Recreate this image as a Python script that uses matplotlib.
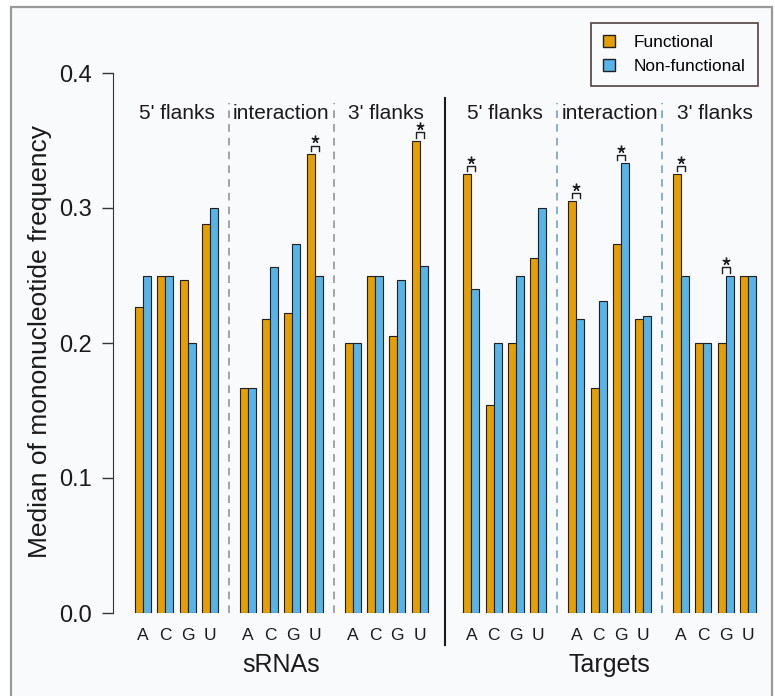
import matplotlib

matplotlib.use("Agg")
import matplotlib.pyplot as plt
import numpy as np
from matplotlib.patches import Patch, Rectangle

plt.rcParams["font.family"] = ["Liberation Sans", "DejaVu Sans"]

nucleotides = ["A", "C", "G", "U"]
regions = ["5' flanks", "interaction", "3' flanks"]
panels = ["sRNAs", "Targets"]

srna_functional = [0.227, 0.250, 0.247, 0.288, 0.167, 0.218, 0.222, 0.340, 0.200, 0.250, 0.205, 0.350]
srna_nonfunctional = [0.250, 0.250, 0.200, 0.300, 0.167, 0.256, 0.273, 0.250, 0.200, 0.250, 0.247, 0.257]
target_functional = [0.325, 0.154, 0.200, 0.263, 0.305, 0.167, 0.273, 0.218, 0.325, 0.200, 0.200, 0.250]
target_nonfunctional = [0.240, 0.200, 0.250, 0.300, 0.218, 0.231, 0.333, 0.220, 0.250, 0.200, 0.250, 0.250]
srna_significant = [7, 11]
target_significant = [0, 4, 6, 8, 10]

ORANGE = "#E69F00"
BLUE = "#56B4E9"
EDGE = "#1f1f1f"
TEXT = "#1a1a1a"

W, H = 775, 696
STEP = 22.3  # px per nucleotide pair
BAR_W = 8 / STEP


def layout_positions() -> np.ndarray:
    pos = []
    x = 0.0
    for p in range(len(panels)):
        for g in range(len(regions)):
            for n in range(len(nucleotides)):
                pos.append(x + n)
            x += 3 + (1.7 if g < len(regions) - 1 else 0)
        x += 2.33
    return np.array(pos)


def px_to_val(y_px: float) -> float:
    return (613 - y_px) / 1350


fig = plt.figure(figsize=(W / 100, H / 100), dpi=100)
fig.patch.set_facecolor("white")
fig.patches.append(
    Rectangle((11 / W, -0.02), (772 - 11) / W, (H - 7) / H + 0.02, transform=fig.transFigure,
              facecolor="#f9fafc", edgecolor="#9a9a9a", lw=1.6, zorder=-10)
)

ax = fig.add_axes([113 / W, 83 / H, (W - 113) / W, 540 / H])
ax.set_facecolor("none")

pos = layout_positions()
functional = np.array(srna_functional + target_functional)
nonfunctional = np.array(srna_nonfunctional + target_nonfunctional)
significant = srna_significant + [i + 12 for i in target_significant]

ax.bar(pos - BAR_W / 2, functional, width=BAR_W, color=ORANGE, edgecolor=EDGE, linewidth=0.8)
ax.bar(pos + BAR_W / 2, nonfunctional, width=BAR_W, color=BLUE, edgecolor=EDGE, linewidth=0.8)

# significance brackets
for i in significant:
    top = max(functional[i], nonfunctional[i])
    x0, x1 = pos[i] - BAR_W / 2, pos[i] + BAR_W / 2
    y_leg, y_bar = top + 0.0022, top + 0.0062
    ax.plot([x0, x0, x1, x1], [y_leg, y_bar, y_bar, y_leg], color=EDGE, lw=1.0, clip_on=False)
    ax.plot(pos[i], top + 0.0108, marker=(5, 2, 0), ms=5.5, mew=1.0, color=EDGE, clip_on=False)

# separators and labels
for p in range(len(panels)):
    sep_color = "#8c8c8c" if p == 0 else "#6a9cb6"
    for g in range(len(regions)):
        idx = p * 12 + g * 4
        center = (pos[idx] + pos[idx + 3]) / 2
        ax.text(center, 0.370, regions[g], ha="center", va="center", fontsize=15, color=TEXT, clip_on=False)
        if g < len(regions) - 1:
            xs = (pos[idx + 3] + pos[idx + 4]) / 2
            ax.plot([xs, xs], [0, px_to_val(103)], color=sep_color, lw=1.1, ls=(0, (5, 4)), clip_on=False)
        for n in range(len(nucleotides)):
            ax.text(pos[idx + n], px_to_val(635), nucleotides[n], ha="center", va="center",
                    fontsize=12.5, color=TEXT, clip_on=False)
    pcenter = (pos[p * 12] + pos[p * 12 + 11]) / 2
    ax.text(pcenter, px_to_val(665), panels[p], ha="center", va="center", fontsize=18, color=TEXT, clip_on=False)

xs = (pos[11] + pos[12]) / 2
ax.plot([xs, xs], [px_to_val(645), px_to_val(98)], color="#1a1a1a", lw=1.5, clip_on=False)

ax.set_xlim((113 - 143) / STEP, (W - 143) / STEP)
ax.set_ylim(0, 0.4)
ax.set_yticks([0.0, 0.1, 0.2, 0.3, 0.4])
ax.set_yticklabels(["0.0", "0.1", "0.2", "0.3", "0.4"])
ax.set_xticks([])
for side in ["top", "right", "bottom"]:
    ax.spines[side].set_visible(False)
ax.spines["left"].set_bounds(0, 0.4)
ax.spines["left"].set_color("#333333")
ax.tick_params(axis="y", direction="out", length=8, width=1, labelsize=17, pad=7, colors="#333333",
               labelcolor=TEXT)

fig.text(40 / W, 1 - 342 / H, "Median of mononucleotide frequency", rotation=90, ha="center", va="center",
         fontsize=19, color=TEXT)

handles = [Patch(facecolor=ORANGE, edgecolor=EDGE, lw=1.0), Patch(facecolor=BLUE, edgecolor=EDGE, lw=1.0)]
leg = fig.legend(handles, ["Functional", "Non-functional"], loc="upper right",
                 bbox_to_anchor=(758 / W, 1 - 23 / H), fontsize=12.4, frameon=True, fancybox=False,
                 borderaxespad=0, borderpad=0.7, handlelength=0.7, handleheight=0.7,
                 handletextpad=1.1, labelspacing=0.52)
leg.get_frame().set_edgecolor("#3a2424")
leg.get_frame().set_linewidth(1.3)
leg.get_frame().set_facecolor("#f9fafc")

fig.savefig("out.png", dpi=100)
